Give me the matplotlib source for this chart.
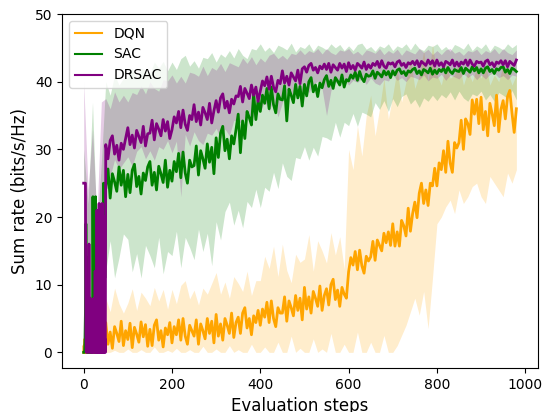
import matplotlib
matplotlib.use('Agg')
import matplotlib.pyplot as plt
import numpy as np

# evaluation steps: first 50 steps one by one, then every 5 steps for the lines;
# bands every 10 steps
steps_line = np.concatenate([np.arange(0, 50), np.arange(50, 985, 5)])
steps_band = np.arange(0, 985, 10)

dqn_mean = [
    # steps 0-49
    0, 1, 0, 2, 0, 1, 3, 0, 1, 0, 2, 0, 1, 0, 3, 1, 0, 2, 0, 1, 0, 2, 1, 0, 3,
    0, 1, 2, 0, 1, 0, 3, 0, 1, 2, 0, 1, 0, 2, 0, 1, 3, 0, 2, 0, 2.5, 1.0, 3.5, 0.8, 4.0,
    # steps 50-980, every 5
    4.4, 1.2, 3.0, 0.6, 3.8, 2.8, 1.6, 4.6, 1.0, 3.2,
    1.9, 4.3, 0.7, 3.7, 2.7, 1.5, 4.5, 2.3, 4.1, 0.9,
    3.4, 1.0, 4.0, 4.8, 1.8, 3.2, 0.8, 3.6, 2.6, 4.4,
    1.4, 3.8, 2.6, 4.8, 1.8, 5.0, 2.4, 1.2, 4.0, 3.2,
    2.4, 4.8, 1.2, 4.2, 3.2, 2.0, 5.0, 2.8, 4.6, 1.4,
    5.6, 2.4, 4.2, 1.8, 5.0, 4.0, 2.8, 5.8, 2.2, 4.4,
    5.2, 2.8, 5.8, 6.6, 3.6, 5.0, 2.6, 5.4, 4.4, 6.2,
    4.0, 6.4, 5.2, 7.4, 4.4, 7.6, 5.0, 3.8, 6.6, 5.8,
    5.8, 8.2, 4.6, 7.6, 6.6, 5.4, 8.4, 6.2, 8.0, 4.8,
    9.6, 6.4, 8.2, 5.8, 9.0, 8.0, 6.8, 9.8, 6.2, 8.4,
    9.4, 7.0, 10.0, 10.8, 7.8, 9.2, 6.8, 9.6, 8.6, 8.0,
    11.9, 14.0, 12.9, 14.9, 12.2, 15.1, 12.8, 11.7, 14.2, 13.5,
    14.1, 16.4, 13.6, 16.6, 15.8, 15.0, 17.6, 16.2, 17.8, 15.8,
    19.0, 15.7, 17.8, 15.7, 19.5, 18.7, 17.2, 21.3, 17.9, 20.5,
    22.2, 19.9, 23.5, 25.0, 22.0, 24.0, 21.7, 25.0, 24.6, 27.2,
    24.6, 28.0, 27.0, 29.8, 26.6, 31.2, 28.0, 26.6, 31.0, 30.2,
    31.0, 34.3, 30.0, 34.5, 33.8, 32.2, 37.3, 35.2, 37.4, 33.8,
    37.7, 32.9, 35.6, 32.0, 36.8, 35.3, 33.5, 38.0, 32.6, 35.9,
    37.2, 34.5, 37.8, 38.7, 35.4, 32.5, 36.0,
]
sac_mean = [
    # steps 0-49
    0, 0, 0, 2, 6, 19, 12, 4, 0, 14, 3, 0, 8, 2, 0, 1, 5, 0, 0, 3, 0, 23, 10, 2, 18,
    0, 6, 23, 0, 4, 1, 0, 7, 0, 2, 0, 0, 12, 3, 0, 20, 0, 9, 22, 0, 25, 2, 24, 11, 25,
    # steps 50-980, every 5
    24.2, 27.1, 22.8, 26.4, 25.2, 23.8, 27.4, 24.7, 26.9, 23.0,
    26.3, 23.6, 26.9, 27.8, 24.5, 26.0, 23.4, 26.5, 25.4, 27.4,
    28.2, 24.7, 26.6, 24.0, 27.5, 26.4, 25.1, 28.4, 24.4, 26.9,
    25.3, 28.2, 26.7, 29.4, 25.8, 29.6, 26.5, 25.0, 28.4, 27.4,
    27.6, 30.5, 26.2, 29.8, 28.6, 27.2, 30.8, 28.1, 30.3, 26.4,
    31.7, 28.8, 32.4, 33.4, 29.8, 31.5, 28.6, 32.0, 30.8, 32.9,
    35.2, 29.5, 34.2, 31.6, 35.6, 34.7, 33.6, 38.2, 34.4, 37.2,
    35.6, 38.0, 36.8, 39.0, 36.0, 39.2, 36.6, 35.4, 38.2, 37.4,
    37.3, 39.4, 34.2, 38.9, 38.0, 36.9, 39.6, 37.6, 39.3, 36.4,
    39.6, 37.9, 40.0, 40.6, 38.5, 39.5, 37.8, 39.8, 39.1, 40.3,
    40.9, 39.3, 40.2, 39.0, 40.6, 40.1, 39.5, 41.0, 39.2, 40.3,
    40.1, 41.0, 40.5, 41.4, 40.2, 41.5, 40.5, 40.0, 41.1, 40.8,
    40.9, 41.6, 40.5, 41.4, 41.1, 40.7, 41.6, 41.0, 41.5, 40.6,
    41.6, 41.0, 41.7, 41.9, 41.2, 41.5, 40.9, 41.6, 41.4, 41.8,
    42.0, 41.2, 41.6, 41.0, 41.8, 41.6, 41.3, 42.0, 41.1, 41.7,
    41.2, 41.8, 41.5, 42.0, 41.3, 42.1, 41.5, 41.2, 41.8, 41.6,
    41.5, 42.1, 41.2, 42.0, 41.7, 41.4, 42.2, 41.6, 42.1, 41.3,
    41.9, 41.3, 42.0, 42.2, 41.5, 41.8, 41.2, 41.9, 41.7, 42.1,
    42.2, 41.4, 41.8, 41.2, 42.0, 41.8, 41.5,
]
drsac_mean = [
    # steps 0-49
    25, 25, 25, 25, 25, 3, 0, 9, 2, 0, 6, 1, 16, 0, 4, 8, 0, 2, 7, 0, 5, 0, 3, 8, 0,
    1, 12, 0, 4, 0, 21, 2, 0, 6, 0, 22, 0, 3, 0, 18, 1, 0, 22, 0, 5, 0, 20, 0, 2, 0,
    # steps 50-980, every 5
    30.7, 28.6, 31.3, 32.0, 29.3, 30.6, 28.4, 30.9, 30.0, 31.6,
    33.2, 30.7, 32.1, 30.2, 32.8, 31.9, 31.0, 33.4, 30.5, 32.3,
    32.4, 34.3, 31.4, 33.8, 33.0, 32.0, 34.4, 32.7, 34.1, 31.6,
    32.9, 34.8, 33.9, 35.6, 33.2, 35.8, 33.7, 32.8, 35.0, 34.4,
    36.6, 34.1, 35.5, 33.6, 36.2, 35.4, 34.4, 36.8, 33.9, 35.7,
    37.2, 35.5, 37.6, 38.2, 36.1, 37.1, 35.4, 37.4, 36.7, 37.9,
    37.8, 39.3, 37.0, 39.0, 38.3, 37.5, 39.5, 38.0, 39.2, 37.1,
    38.6, 40.1, 39.4, 40.7, 38.9, 40.8, 39.2, 38.5, 40.2, 39.7,
    41.6, 39.8, 40.8, 39.5, 41.3, 40.7, 40.1, 41.7, 39.7, 41.9,
    42.2, 41.4, 42.4, 42.7, 41.7, 42.1, 41.3, 42.3, 41.9, 42.6,
    41.8, 42.7, 41.4, 42.5, 42.1, 41.7, 42.7, 42.0, 42.6, 41.5,
    42.8, 41.9, 42.4, 41.7, 42.7, 42.4, 42.0, 42.9, 41.8, 42.5,
    42.0, 42.7, 42.4, 43.0, 42.1, 43.1, 42.3, 42.0, 42.8, 42.6,
    42.8, 42.2, 42.9, 43.1, 42.4, 42.7, 42.1, 42.8, 42.6, 43.0,
    42.5, 43.1, 42.2, 43.0, 42.7, 42.4, 43.2, 42.6, 43.1, 42.3,
    43.2, 42.4, 42.8, 42.2, 43.0, 42.8, 42.5, 43.2, 42.3, 42.9,
    42.3, 42.9, 42.6, 43.2, 42.4, 43.2, 42.6, 42.3, 43.0, 42.8,
    42.9, 42.3, 43.0, 43.2, 42.5, 42.8, 42.2, 42.9, 42.7, 43.1,
    42.5, 43.1, 42.2, 43.0, 42.7, 42.4, 43.2,
]

dqn_low = [
    0, 0, 0, 0, 0, 0, 0, 0.3, 0, 0,
    0.5, 0, 0, 0.4, 0, 0, 0.8, 0, 0, 0.3,
    0, 0.6, 0, 0, 0.4, 0, 0, 0.9, 0, 0,
    0.5, 0, 0, 1.0, 0, 0.4, 0, 0, 1.2, 0,
    0, 0.8, 0, 0, 1.5, 0, 0, 2.4, 0, 0.6,
    0, 0, 2.0, 0, 0.5, 0, 2.8, 0, 0, 1.2,
    0, 0, 3.0, 0, 0, 1.5, 0, 0, 2.5, 0,
    0, 1.0, 2.5, 4.0, 6.0, 8.0, 5.5, 9.0, 3.5, 11.0,
    19.0, 20.0, 21.5, 22.5, 20.5, 24.0, 22.0, 23.0, 24.5, 25.0,
    23.0, 22.0, 26.0, 25.0, 24.0, 23.0, 26.5, 25.0, 27.0,
]
dqn_high = [
    3, 5, 2, 6, 4, 8.0, 6.0, 9.5, 7.2, 5.8,
    7.3, 9.4, 6.2, 8.9, 8.0, 6.9, 9.6, 7.6, 9.3, 6.4,
    9.3, 7.2, 9.9, 10.6, 7.9, 9.2, 7.0, 9.5, 8.6, 10.2,
    11.8, 8.6, 10.4, 8.0, 11.2, 10.2, 9.0, 12.0, 8.4, 10.6,
    10.6, 14.2, 12.4, 15.7, 11.2, 16.0, 12.1, 10.3, 14.5, 13.3,
    13.8, 17.4, 12.0, 16.5, 15.0, 13.2, 17.7, 14.4, 17.1, 12.3,
    30.0, 27.0, 33.5, 29.0, 35.0, 38.0, 32.0, 36.0, 40.5, 34.5,
    38.0, 42.0, 37.0, 40.0, 43.5, 39.0, 41.0, 44.5, 40.0, 45.5,
    41.0, 39.5, 42.5, 40.5, 41.0, 43.0, 39.5, 41.5, 40.0, 42.0,
    40.5, 42.5, 39.5, 41.0, 40.0, 42.5, 41.5, 39.5, 41.0,
]
sac_low = [
    0, 0, 0, 0, 0, 12.0, 16.5, 11.0, 14.0, 17.5,
    16.7, 11.9, 14.6, 11.0, 15.8, 14.3, 12.5, 17.0, 11.6, 14.9,
    14.3, 17.9, 12.5, 17.0, 15.5, 13.7, 18.2, 14.9, 17.6, 12.8,
    19.3, 16.6, 20.8, 22.2, 18.8, 21.0, 18.4, 22.3, 21.4, 24.1,
    21.4, 24.4, 23.8, 26.6, 24.2, 28.0, 26.0, 25.4, 28.8, 28.6,
    30.4, 28.4, 30.3, 29.0, 31.9, 31.7, 31.3, 34.0, 31.8, 34.0,
    33.5, 35.3, 33.4, 35.5, 35.2, 34.8, 36.9, 35.9, 37.2, 35.6,
    37.5, 36.3, 37.8, 38.2, 36.7, 37.4, 36.2, 37.6, 37.1, 38.0,
    37.2, 38.1, 37.6, 38.5, 37.3, 38.6, 37.6, 37.1, 38.2, 37.9,
    38.6, 37.3, 38.1, 37.1, 38.4, 38.0, 37.5, 38.7, 37.3,
]
sac_high = [
    30.0, 22.0, 37.0, 18.0, 28.0, 40.0, 38.0, 41.0, 39.5, 40.5,
    40.6, 42.0, 40.3, 42.0, 41.7, 41.2, 42.9, 42.0, 43.0, 41.6,
    42.9, 41.8, 43.4, 43.9, 42.3, 43.1, 42.0, 43.6, 43.4, 44.3,
    42.9, 44.1, 43.6, 44.6, 43.5, 44.9, 43.9, 43.4, 44.9, 44.7,
    45.6, 44.5, 45.1, 44.3, 45.4, 45.1, 44.7, 45.7, 44.4, 45.2,
    44.9, 45.6, 44.5, 45.4, 45.1, 44.7, 45.6, 45.0, 45.5, 44.6,
    45.3, 44.6, 45.5, 45.7, 44.8, 45.2, 44.5, 45.3, 45.0, 45.6,
    44.6, 45.3, 45.0, 45.6, 44.7, 45.7, 44.9, 44.6, 45.4, 45.2,
    45.6, 44.7, 45.2, 44.5, 45.5, 45.2, 44.8, 45.7, 44.6, 45.3,
    44.9, 45.6, 44.5, 45.4, 45.1, 44.7, 45.6, 45.0, 45.5,
]
drsac_low = [
    0, 0, 0, 0, 0, 27.5, 26.0, 28.5, 27.0, 28.0,
    28.9, 27.5, 29.7, 30.4, 28.6, 29.8, 28.4, 30.4, 30.0, 31.3,
    29.5, 31.2, 23.0, 32.2, 30.5, 32.6, 31.3, 30.7, 32.4, 32.1,
    33.1, 31.6, 33.0, 32.0, 34.3, 34.1, 33.8, 36.0, 34.2, 36.0,
    35.6, 37.1, 35.6, 37.4, 34.8, 36.9, 38.7, 37.9, 39.1, 37.8,
    39.2, 38.4, 39.6, 40.1, 38.9, 35.0, 38.7, 39.9, 39.7, 40.4,
    39.5, 40.2, 39.9, 40.5, 39.6, 40.6, 39.8, 39.5, 40.3, 40.1,
    41.0, 40.2, 40.6, 40.0, 40.8, 40.6, 40.3, 41.0, 40.1, 40.7,
    40.5, 41.1, 40.2, 41.0, 40.7, 40.4, 41.2, 40.6, 41.1, 40.3,
    41.0, 40.4, 41.1, 41.3, 40.6, 40.9, 40.3, 41.0, 40.8,
]
drsac_high = [
    40.0, 24.0, 33.0, 20.0, 37.0, 37.5, 36.0, 38.5, 37.0, 38.0,
    37.0, 38.4, 38.1, 39.4, 38.2, 40.0, 39.0, 38.6, 40.3, 40.1,
    41.0, 39.8, 40.8, 39.8, 41.4, 41.2, 40.8, 42.3, 40.9, 42.1,
    41.7, 42.7, 41.5, 42.8, 42.5, 42.2, 43.5, 42.7, 43.7, 42.5,
    43.5, 42.9, 43.9, 44.2, 43.4, 43.9, 43.3, 44.2, 44.0, 44.7,
    44.0, 44.6, 44.3, 44.9, 44.1, 44.9, 44.3, 44.0, 44.7, 44.5,
    44.9, 44.1, 44.5, 43.9, 44.7, 44.5, 44.2, 44.9, 44.0, 44.6,
    44.2, 44.8, 43.9, 44.7, 44.4, 44.1, 44.9, 44.3, 44.8, 44.0,
    44.6, 44.0, 44.7, 44.9, 44.2, 44.5, 43.9, 44.6, 44.4, 44.8,
    44.0, 44.6, 44.3, 44.9, 44.1, 44.9, 44.3, 44.0, 44.7,
]

names = ['DQN', 'SAC', 'DRSAC']
colors = ['orange', 'green', 'purple']
means = [dqn_mean, sac_mean, drsac_mean]
lows = [dqn_low, sac_low, drsac_low]
highs = [dqn_high, sac_high, drsac_high]

fig = plt.figure(figsize=(5.49, 4.12), dpi=100)
ax = fig.add_axes([0.113, 0.107, 0.867, 0.859])

for i in range(3):
    ax.fill_between(steps_band, lows[i], highs[i], color=colors[i],
                    alpha=0.2, linewidth=0)
for i in range(3):
    ax.plot(steps_line, means[i], color=colors[i], linewidth=2.0, label=names[i])

ax.set_ylim(-2.3, 50)
ax.set_xlabel('Evaluation steps', fontsize=12)
ax.set_ylabel('Sum rate (bits/s/Hz)', fontsize=12)
leg = ax.legend(loc='upper left', fontsize=10)
for h in leg.get_lines():
    h.set_linewidth(1.5)

fig.savefig('out.png', dpi=100)
